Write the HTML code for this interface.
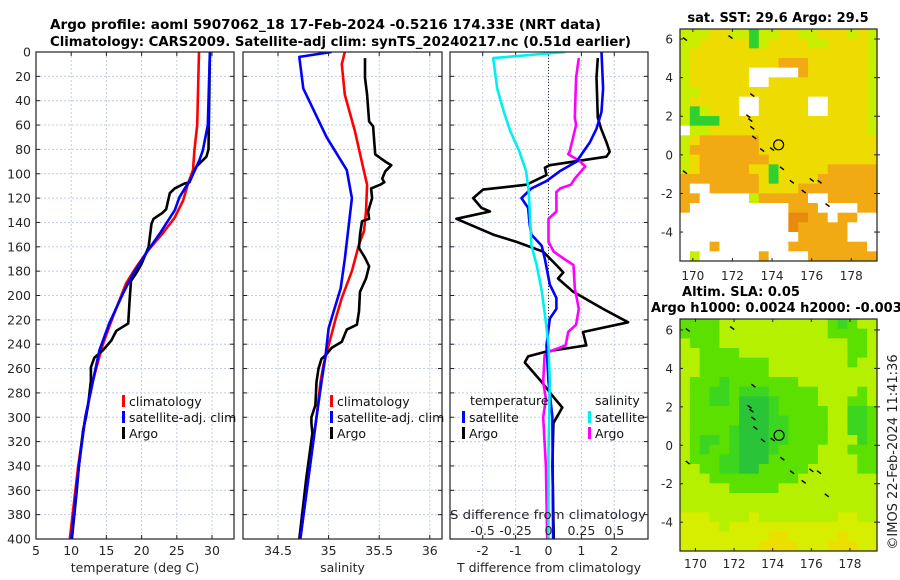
<!DOCTYPE html>
<html><head><meta charset="utf-8"><style>
html,body{margin:0;padding:0;background:#fff;}
svg{display:block;font-family:"DejaVu Sans","Liberation Sans",sans-serif;}
</style></head><body>
<svg id="fig" width="900" height="580" viewBox="0 0 900 580" xmlns="http://www.w3.org/2000/svg">
<text x="50" y="29" font-size="13" font-weight="bold" textLength="551" lengthAdjust="spacingAndGlyphs">Argo profile: aoml 5907062_18 17-Feb-2024 -0.5216 174.33E (NRT data)</text>
<text x="50" y="46" font-size="13" font-weight="bold" textLength="581" lengthAdjust="spacingAndGlyphs">Climatology: CARS2009. Satellite-adj clim: synTS_20240217.nc (0.51d earlier)</text>
<text x="778" y="22" font-size="13" font-weight="bold" text-anchor="middle">sat. SST: 29.6 Argo: 29.5</text>
<text x="741" y="296" font-size="13" font-weight="bold" text-anchor="middle">Altim. SLA: 0.05</text>
<text x="651" y="312" font-size="13" font-weight="bold">Argo h1000: 0.0024 h2000: -0.003</text>
<text x="0" y="0" font-size="13" fill="#222" text-anchor="middle" transform="translate(897,452) rotate(-90)">©IMOS 22-Feb-2024 11:41:36</text>
<g id="layer"></g>
</svg>
<script>
// ---------- profile data ----------
const tClimDepth = [0,60,81,97,108,122,136,149,163,177,190,218,240,259,270,300,340,400];
const tClimVal   = [28.15,27.9,27.5,27.3,26.6,25.9,24.7,23.0,20.9,19.2,17.8,15.9,14.5,13.6,13.1,12.0,11.0,9.8];
const tSatDepth  = [0,60,81,89,103,119,130,149,163,182,199,223,245,270,300,340,400];
const tSatVal    = [29.7,29.4,28.7,28.2,27.1,25.4,24.7,22.6,20.9,18.8,17.3,15.4,14.0,13.1,12.0,11.1,10.0];
const tArgoDepth = [0,80,86,94,100,107,108,112,116,129,132,137,141,160,174,182,188,204,223,229,237,245,251,259,270,290,300,310,340,360,400];
const tArgoVal   = [29.7,29.5,29.2,27.8,27.3,26.8,26.1,24.7,24.0,23.5,23.0,21.7,21.4,21.0,20.0,19.2,18.5,18.3,18.1,16.4,15.7,14.5,13.3,12.8,12.8,12.4,12.1,11.7,11.1,10.8,10.1];

const sClimDepth = [0,10,35,65,98,109,131,147,158,180,202,219,241,257,271,300,350,400];
const sClimVal   = [35.16,35.13,35.16,35.26,35.35,35.38,35.37,35.35,35.30,35.23,35.13,35.07,35.0,34.95,34.92,34.88,34.80,34.72];
const sSatDepth  = [0,4,30,70,97,120,142,170,194,213,227,249,271,300,350,400];
const sSatVal    = [35.03,34.71,34.75,34.98,35.18,35.23,35.20,35.16,35.12,35.05,35.0,34.97,34.93,34.88,34.80,34.72];
const sArgoDepth = [5,21,35,57,61,84,90,93,98,104,107,109,112,120,131,137,139,150,161,169,176,186,197,213,224,228,238,243,249,252,260,271,290,300,305,313,350,400];
const sArgoVal   = [35.36,35.36,35.38,35.40,35.44,35.46,35.56,35.62,35.56,35.53,35.55,35.51,35.42,35.43,35.39,35.40,35.33,35.31,35.30,35.36,35.40,35.37,35.31,35.30,35.28,35.18,35.13,35.03,34.97,34.93,34.90,34.88,34.87,34.83,34.83,34.84,34.78,34.71];

const dSsatDepth = [0,5,30,49,65,82,98,115,137,159,175,197,222,241,271,330,400];
const dSsatVal   = [0.13,-0.42,-0.39,-0.34,-0.29,-0.22,-0.17,-0.15,-0.14,-0.13,-0.09,-0.05,-0.02,0,0.01,0,0];
const dSargoDepth = [5,21,54,60,82,84,89,94,104,109,112,115,131,137,156,164,170,175,194,211,224,230,241,246,249,271,285,300,340,400];
const dSargoVal   = [0.23,0.21,0.20,0.21,0.16,0.15,0.23,0.28,0.20,0.17,0.09,0.06,0.06,0,0,0.04,0.12,0.19,0.20,0.23,0.21,0.15,0.13,0.01,-0.03,-0.04,-0.02,-0.04,-0.02,-0.01];
const dTsatDepth = [0,30,49,63,74,90,98,106,112,120,128,142,150,159,170,191,202,211,219,241,271,300,400];
const dTsatVal   = [1.61,1.66,1.61,1.46,1.26,0.85,0.34,-0.06,-0.52,-0.82,-0.62,-0.57,-0.52,-0.21,-0.11,0.04,0.24,0.24,0.04,-0.06,0.0,0.12,0.14];
const dTargoDepth = [5,21,54,63,74,82,86,93,95,101,109,113,120,128,131,137,150,156,164,175,181,186,197,211,222,230,241,246,250,255,271,285,292,300,305,340,400];
const dTargoVal   = [1.5,1.46,1.5,1.6,1.76,1.86,1.76,0.04,-0.11,-0.06,-0.67,-1.99,-2.29,-2.04,-1.78,-2.8,-1.68,-0.97,-0.16,0.24,0.45,0.29,0.75,1.66,2.42,1.05,1.15,-0.06,-0.62,-0.72,-0.21,0.2,0.42,0.25,0.15,0.12,0.16];

const depthTicks = [0,20,40,60,80,100,120,140,160,180,200,220,240,260,280,300,320,340,360,380,400];
const tempTicks = [5,10,15,20,25,30];
const salTicks = [34.5,35,35.5,36];
const tDiffTicks = [-2,-1,0,1,2];
const sDiffTicks = [-0.5,-0.25,0,0.25,0.5];
const sDiffTickLabels = ["-0.5","-0.25","0","0.25","0.5"];

// ---------- map data ----------
const sstRows = [
"gggyyggGggyyggyyygyg",
"ggyyyyyGgyyyyggyyyyg",
"gyyyyyyyyyyyyyyyyyyg",
"gyyyyyyyyyoooyyyyyyg",
"gyyyyyywwwwwoyyyyyyg",
"gyyyyyywwyyyyyyyyyyg",
"ggyyyyyyyyyyyyyyyyyg",
"gyyyyywwyyyyywwyyyyg",
"gGgyyywwyyyyywwyyyyg",
"gGGGyyyyyyyyyyyyyyyg",
"wggyyyyyyyyyyyyyyyyg",
"gyooooooyyyyyyyyyyyy",
"goooooooyyyyyyyyyyyy",
"gyoooooooyyyyyyyyyyy",
"gyoooooyyGyyyyyooooo",
"ooooooooyGyyyyoooooo",
"owwoooooyyyyoooooooo",
"oowwwwwgooooowwooooo",
"owwwwwwwwwwooowwwwoo",
"wwwwwwwwwwwOOoowoowww",
"wwwwwwwwwwwOooooowww",
"wwwwwwwwwwwwooooowww",
"wwwowwwwwwwoooooooow",
"wgwwwwwwowwwwooooooo"];
const sslRows = [
"gggglllllllllllgGgll",
"gggglllllllllllggggl",
"lggglllllllllllllggl",
"llgggglllllllllllggl",
"llgggggggllllllllgll",
"llggggggglllllllllll",
"lgggGgggggggllllllll",
"lggGGgGGGgggggllllgl",
"lggGGgDDDGgggglllggl",
"lgggggDDDGgggggllGGg",
"lgggggDDDGGggggllGGg",
"lggggGDDDGGggggllGGg",
"lgGGgGDDDGGgggglllGg",
"lgGggGDDDGgggglllggg",
"lgggGGDDDgggggllllgg",
"llggGGDDggggglllllgg",
"lllgggggggggllllllll",
"lllllgggggllllllllll",
"llllllllllllllllllll",
"llllllllllllllllllll",
"yyyllllyllllllllyyll",
"yyyylyyyyyyyyyyyyyyy",
"yyyyyyyyyYYyyyyyYyyy",
"yyyyyyyyYYYYyyyYYYyy"];
const lonTicks = [170,172,174,176,178];
const latTicks = [-4,-2,0,2,4,6];
const coastLon = [169.6,171.9,173.0,172.9,173.0,173.1,173.5,174.0,174.5,175.0,176.0,176.4,175.6,176.8,169.6,172.8];
const coastLat = [6.0,6.1,3.1,1.8,1.4,0.9,0.25,0.3,-0.7,-1.4,-1.3,-1.4,-1.9,-2.6,-0.9,2.0];
const argoLon = 174.33, argoLat = 0.52;

// ---------- drawing ----------
const NS = "http://www.w3.org/2000/svg";
const layer = document.getElementById('layer');
function mk(tag, attrs, parent){
  const e = document.createElementNS(NS, tag);
  for (const k in attrs) e.setAttribute(k, attrs[k]);
  (parent||layer).appendChild(e);
  return e;
}
const Y0 = 52, Y1 = 539;
function yDepth(d){ return Y0 + d*(Y1-Y0)/400; }
function linScale(v0,p0,v1,p1){ return v => p0 + (v-v0)*(p1-p0)/(v1-v0); }

const panels = [
  {name:'temperature-panel', x0:36, x1:234, sx: linScale(5,36,30,212), ticks:tempTicks, labels:true, xlabel:'temperature (deg C)'},
  {name:'salinity-panel', x0:243, x1:442, sx: linScale(34.5,278,35,328.6), ticks:salTicks, labels:false, xlabel:'salinity'},
  {name:'difference-panel', x0:450, x1:648, sx: linScale(0,548.5,2,614.3), ticks:tDiffTicks, labels:false, xlabel:'T difference from climatology'}
];
const sDiffX = linScale(0,548.5,0.5,614.3);

panels.forEach(p => {
  const g = mk('g', {});
  
  
  depthTicks.forEach(d => {
    const y = yDepth(d);
    const gl = mk('line', {x1:p.x0, x2:p.x1, y1:y, y2:y, stroke:'#c4cce6', 'stroke-width':1, 'stroke-dasharray':'2,2'}, g);
    
    
    mk('line', {x1:p.x0, x2:p.x0+4, y1:y, y2:y, stroke:'#222', 'stroke-width':1}, g);
    mk('line', {x1:p.x1-4, x2:p.x1, y1:y, y2:y, stroke:'#222', 'stroke-width':1}, g);
    if (p.labels){
      const t = mk('text', {x:31, y:y+4.5, 'font-size':12.5, 'text-anchor':'end', fill:'#262626'}, g);
      t.textContent = d;
      
      
    }
  });
  p.ticks.forEach(v => {
    const x = p.sx(v);
    const gl = mk('line', {x1:x, x2:x, y1:Y0, y2:Y1, stroke:'#c4cce6', 'stroke-width':1, 'stroke-dasharray':'2,2'}, g);
    
    
    mk('line', {x1:x, x2:x, y1:Y1, y2:Y1-4, stroke:'#222', 'stroke-width':1}, g);
    mk('line', {x1:x, x2:x, y1:Y0, y2:Y0+4, stroke:'#222', 'stroke-width':1}, g);
    const t = mk('text', {x:x, y:555, 'font-size':12.5, 'text-anchor':'middle', fill:'#262626'}, g);
    t.textContent = v;
    
    
  });
  const xl = mk('text', {x:(p.x0+p.x1)/2, y:572, 'font-size':12.5, 'text-anchor':'middle', fill:'#262626'}, g);
  xl.textContent = p.xlabel;
  
  
  p.g = g;
});

// zero line in diff panel
const zl = mk('line', {x1:548.5, x2:548.5, y1:Y0, y2:Y1, stroke:'#333', 'stroke-width':1, 'stroke-dasharray':'1,2'});



function drawLine(depths, vals, sx, color, name, x0, x1){
  let d = '';
  for (let i=0;i<depths.length;i++){
    d += (i?'L':'M') + sx(vals[i]).toFixed(1) + ',' + yDepth(depths[i]).toFixed(1);
  }
  const e = mk('path', {d:d, fill:'none', stroke:color, 'stroke-width':2.6, 'stroke-linejoin':'round', 'clip-path':'url(#c'+x0+')'});
  
  
}
const defs = mk('defs', {});
panels.forEach(p => {
  const cp = mk('clipPath', {id:'c'+p.x0}, defs);
  mk('rect', {x:p.x0, y:Y0, width:p.x1-p.x0, height:Y1-Y0}, cp);
});
const sxT = panels[0].sx, sxS = panels[1].sx, sxD = panels[2].sx;
drawLine(tClimDepth, tClimVal, sxT, '#ff0000', 'temperature-climatology-line', 36);
drawLine(tArgoDepth, tArgoVal, sxT, '#000000', 'temperature-argo-line', 36);
drawLine(tSatDepth, tSatVal, sxT, '#0000ff', 'temperature-satellite-line', 36);
drawLine(sClimDepth, sClimVal, sxS, '#ff0000', 'salinity-climatology-line', 243);
drawLine(sArgoDepth, sArgoVal, sxS, '#000000', 'salinity-argo-line', 243);
drawLine(sSatDepth, sSatVal, sxS, '#0000ff', 'salinity-satellite-line', 243);
drawLine(dTargoDepth, dTargoVal, sxD, '#000000', 'tdiff-argo-line', 450);
drawLine(dSargoDepth, dSargoVal, sDiffX, '#ff00ff', 'sdiff-argo-line', 450);
drawLine(dTsatDepth, dTsatVal, sxD, '#0000ff', 'tdiff-satellite-line', 450);
drawLine(dSsatDepth, dSsatVal, sDiffX, '#00f0f0', 'sdiff-satellite-line', 450);

// panel frames
panels.forEach(p => {
  const r = mk('rect', {x:p.x0, y:Y0, width:p.x1-p.x0, height:Y1-Y0, fill:'none', stroke:'#222', 'stroke-width':1.2});
  
  
});

// S difference inner axis labels
const sdt = mk('text', {x:450, y:519, 'font-size':12.5, fill:'#262626', textLength:196, lengthAdjust:'spacingAndGlyphs'});
sdt.textContent = 'S difference from climatology';


sDiffTicks.forEach((v,i) => {
  const t = mk('text', {x:sDiffX(v), y:535, 'font-size':12.5, 'text-anchor':'middle', fill:'#262626'});
  t.textContent = sDiffTickLabels[i];
  
  
});

// legends
function legendEntry(x, y, color, label){
  const g = mk('g', {});
  
  
  mk('rect', {x:x, y:y-11, width:3, height:12, fill:color}, g);
  const t = mk('text', {x:x+7, y:y, 'font-size':12.5, fill:'#111'}, g);
  t.textContent = label;
}
legendEntry(122, 406, '#ff0000', 'climatology');
legendEntry(122, 422, '#0000ff', 'satellite-adj. clim');
legendEntry(122, 438, '#000000', 'Argo');
legendEntry(330, 406, '#ff0000', 'climatology');
legendEntry(330, 422, '#0000ff', 'satellite-adj. clim');
legendEntry(330, 438, '#000000', 'Argo');
const lt1 = mk('text', {x:470, y:405, 'font-size':12.5, fill:'#111'}); lt1.textContent='temperature';


const lt2 = mk('text', {x:595, y:405, 'font-size':12.5, fill:'#111'}); lt2.textContent='salinity';


legendEntry(462, 422, '#0000ff', 'satellite');
legendEntry(462, 438, '#000000', 'Argo');
legendEntry(588, 422, '#00f0f0', 'satellite');
legendEntry(588, 438, '#ff00ff', 'Argo');

// ---------- maps ----------
const sstColors = {y:'#eedb00', g:'#c8ee00', G:'#30d030', o:'#f2aa14', O:'#e88a0c', w:'#ffffff'};
const sslColors = {l:'#b4f000', g:'#5ce000', G:'#3cd520', D:'#2ac438', y:'#d8ee00', Y:'#ecdf00'};
function drawMap(name, rows, colors, top, bottom, latTop, latBot, lonL, lonR, lonLabelY){
  const g = mk('g', {});
  
  
  const L = 680, R = 877;
  const nr = rows.length, nc = 20;
  const cw = (R-L)/nc, ch = (bottom-top)/nr;
  rows.forEach((row,i) => {
    for (let j=0;j<nc;j++){
      const c = colors[row.charAt(j)];
      if (!c) continue;
      const cell = mk('rect', {x:(L+j*cw).toFixed(2), y:(top+i*ch).toFixed(2), width:(cw+0.6).toFixed(2), height:(ch+0.6).toFixed(2), fill:c}, g);
      
      
    }
  });
  const lx = linScale(lonL, L, lonR, R), ly = linScale(latTop, top, latBot, bottom);
  coastLon.forEach((lo,i) => {
    const x = lx(lo), y = ly(coastLat[i]);
    const s = mk('path', {d:'M'+(x-2)+','+(y-1.5)+'L'+(x+2)+','+(y+1.5), stroke:'#000', 'stroke-width':1.4}, g);
    
    
  });
  const ci = mk('circle', {cx:lx(argoLon), cy:ly(argoLat), r:5, fill:'none', stroke:'#000', 'stroke-width':1.2}, g);
  
  
  mk('rect', {x:L, y:top, width:R-L, height:bottom-top, fill:'none', stroke:'#222', 'stroke-width':1.2}, g);
  lonTicks.forEach(v => {
    const x = lx(v);
    mk('line', {x1:x, x2:x, y1:bottom, y2:bottom-3, stroke:'#222'}, g);
    mk('line', {x1:x, x2:x, y1:top, y2:top+3, stroke:'#222'}, g);
    const t = mk('text', {x:x, y:lonLabelY, 'font-size':12, 'text-anchor':'middle', fill:'#262626'}, g);
    t.textContent = v;
    
    
  });
  latTicks.forEach(v => {
    const y = ly(v);
    mk('line', {x1:L, x2:L+3, y1:y, y2:y, stroke:'#222'}, g);
    mk('line', {x1:R-3, x2:R+3, y1:y, y2:y, stroke:'#222'}, g);
    const t = mk('text', {x:673, y:y+4.5, 'font-size':12, 'text-anchor':'end', fill:'#262626'}, g);
    t.textContent = v;
    
    
  });
}
drawMap('sst-map', sstRows, sstColors, 29, 261, 6.52, -5.5, 169.35, 179.3, 280);
drawMap('sla-map', sslRows, sslColors, 319, 551, 6.57, -5.5, 169.2, 179.4, 568);
</script>
</body></html>
